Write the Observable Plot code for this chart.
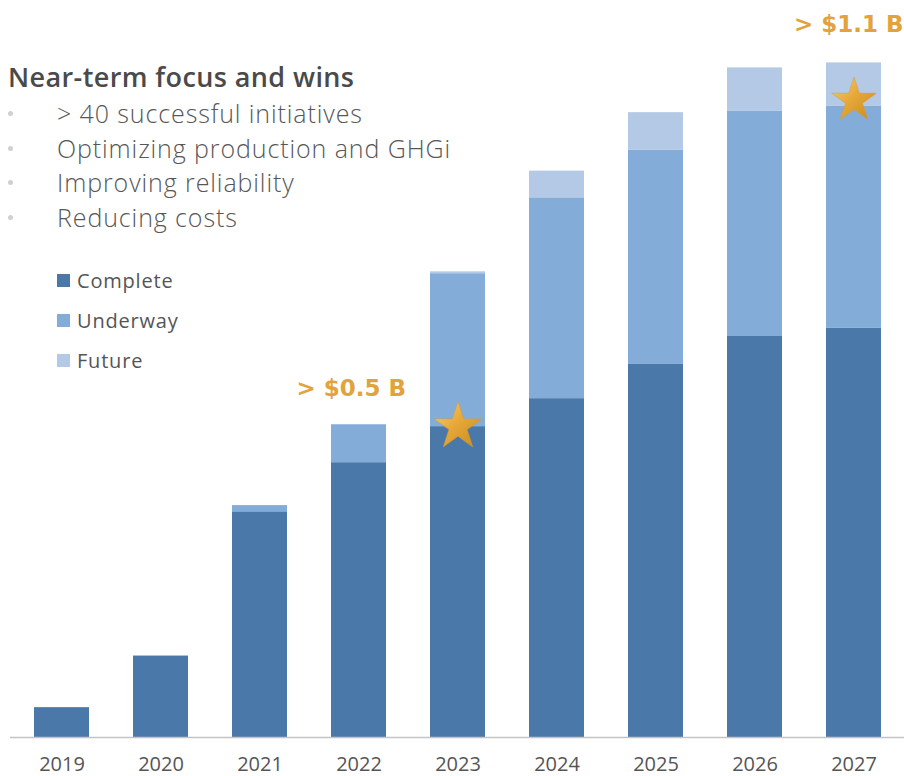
<!DOCTYPE html>
<html>
<head>
<meta charset="utf-8">
<script src="https://cdn.jsdelivr.net/npm/d3@7"></script>
<script src="https://cdn.jsdelivr.net/npm/@observablehq/plot@0.6"></script>
<style>
  html, body { margin: 0; padding: 0; background: #fff; }
  #wrap { position: relative; width: 904px; height: 776px; overflow: hidden; font-family: "Open Sans", sans-serif; }
  #chart { position: absolute; left: 0; top: 0; }
  #title { position: absolute; left: 8px; top: 58px; font-size: 27px; font-weight: 600; color: #4a4a4a; white-space: nowrap; letter-spacing: 0.4px; }
  #bullets { position: absolute; left: 0; top: 96px; margin: 0; padding: 0; list-style: none; }
  #bullets li { position: relative; height: 34.5px; line-height: 34.5px; padding-left: 57px; font-family: "Open Sans", sans-serif; font-weight: 300; font-size: 25px; color: #575757; white-space: nowrap; letter-spacing: 0.9px; }
  #bullets li::before { content: ""; position: absolute; left: 8px; top: 15px; width: 5px; height: 5px; border-radius: 50%; background: #d0d0d0; }
  #legend { position: absolute; left: 57px; top: 260px; }
  .lg { display: flex; align-items: center; height: 40px; font-family: "Open Sans", sans-serif; font-size: 20px; color: #555; letter-spacing: 0.8px; }
  .lg span.sw { display: inline-block; width: 13px; height: 13px; margin-right: 7px; }
</style>
</head>
<body>
<svg width="0" height="0" style="position:absolute">
  <defs>
    <linearGradient id="gold" x1="0" y1="0" x2="1" y2="1">
      <stop offset="0" stop-color="#f6d27a"/>
      <stop offset="0.45" stop-color="#e8a93a"/>
      <stop offset="1" stop-color="#c98a1e"/>
    </linearGradient>
  </defs>
</svg>
<div id="wrap">
  <div id="chart"></div>
  <div id="title"></div>
  <ul id="bullets"></ul>
  <div id="legend"></div>
</div>
<script>
// ---- data (values in $M) ----
const years = ["2019", "2020", "2021", "2022", "2023", "2024", "2025", "2026", "2027"];
const complete = [48, 131, 363, 442, 500, 545, 600, 645, 658];
const underway = [0, 0, 10, 61, 246, 323, 345, 362, 357];
const future = [0, 0, 0, 0, 3, 43, 60, 70, 70];
const seriesNames = ["Complete", "Underway", "Future"];
const seriesColors = ["#4a78a9", "#84acd9", "#b4c9e6"];

const titleText = "Near-term focus and wins";
const bulletTexts = ["> 40 successful initiatives", "Optimizing production and GHGi", "Improving reliability", "Reducing costs"];

const milestoneYears = ["2023", "2027"];
const milestoneLabels = ["> $0.5 B", "> $1.1 B"];

// ---- build table ----
const seriesValues = [complete, underway, future];
const rows = [];
years.forEach((y, i) => {
  seriesNames.forEach((s, k) => rows.push({year: y, series: s, value: seriesValues[k][i]}));
});
const idx = y => years.indexOf(y);
const i23 = idx(milestoneYears[0]);
const i27 = idx(milestoneYears[1]);
const star2023 = [{year: milestoneYears[0], v: complete[i23]}];
const star2027 = [{year: milestoneYears[1], v: complete[i27] + underway[i27]}];
const lab2023 = [{year: milestoneYears[0], v: complete[i23], t: milestoneLabels[0]}];
const lab2027 = [{year: milestoneYears[1], v: complete[i27] + underway[i27] + future[i27], t: milestoneLabels[1]}];

const gold = "#e2a23c";

const plot = Plot.plot({
  width: 904,
  height: 776,
  marginLeft: 10,
  marginRight: 0,
  marginTop: 22,
  marginBottom: 39,
  style: {fontFamily: "Open Sans, sans-serif", fontSize: "20px", color: "#555", background: "transparent", overflow: "visible"},
  x: {domain: years, paddingInner: 0.447, paddingOuter: 0.22, label: null, tickSize: 0, tickPadding: 19},
  y: {domain: [0, 1150], axis: null},
  color: {domain: seriesNames, range: seriesColors},
  marks: [
    Plot.barY(rows, {x: "year", y: "value", fill: "series", order: seriesNames}),
    Plot.ruleY([0], {stroke: "#c4c4c4", strokeWidth: 1.5}),
    Plot.dot(star2023, {x: "year", y: "v", symbol: "star", r: 15, fill: "url(#gold)", stroke: "#d79a2c", strokeWidth: 0.5}),
    Plot.dot(star2027, {x: "year", y: "v", symbol: "star", r: 14, dy: -6, fill: "url(#gold)", stroke: "#d79a2c", strokeWidth: 0.5}),
    Plot.text(lab2023, {x: "year", y: "v", text: "t", dx: -52, dy: -38, textAnchor: "end", fill: gold, fontSize: 23, fontWeight: 700, fontFamily: "DejaVu Sans"}),
    Plot.text(lab2027, {x: "year", y: "v", text: "t", dx: -60, dy: -38, textAnchor: "start", fill: gold, fontSize: 23, fontWeight: 700, fontFamily: "DejaVu Sans"})
  ]
});
document.getElementById("chart").appendChild(plot);

document.getElementById("title").textContent = titleText;
const ul = document.getElementById("bullets");
bulletTexts.forEach(t => { const li = document.createElement("li"); li.textContent = t; ul.appendChild(li); });
const lg = document.getElementById("legend");
seriesNames.forEach((s, k) => {
  const d = document.createElement("div");
  d.className = "lg";
  const sw = document.createElement("span");
  sw.className = "sw";
  sw.style.background = seriesColors[k];
  d.appendChild(sw);
  d.appendChild(document.createTextNode(s));
  lg.appendChild(d);
});
</script>
</body>
</html>
